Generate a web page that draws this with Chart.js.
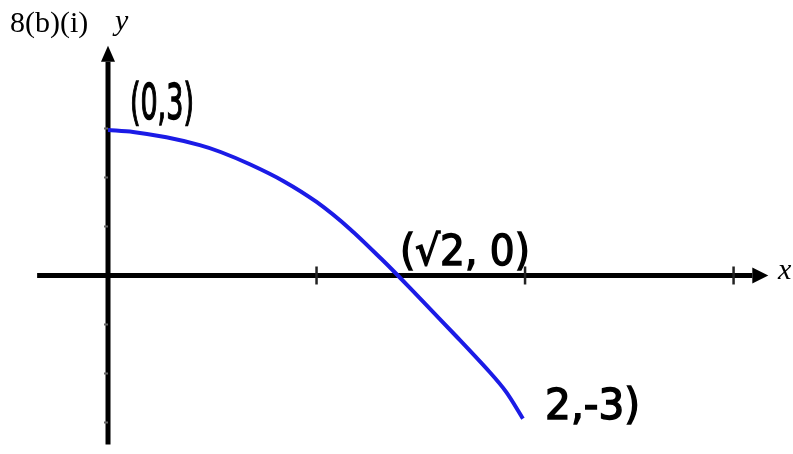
<!DOCTYPE html>
<html>
<head>
<meta charset="utf-8">
<script src="https://cdn.jsdelivr.net/npm/chart.js@4.4.1/dist/chart.umd.min.js"></script>
<style>
  html, body { margin: 0; padding: 0; background: #fff; }
  #wrap { width: 793px; height: 454px; }
</style>
</head>
<body>
<div id="wrap"><canvas id="graph" width="793" height="454"></canvas></div>
<script>
// curve (x, y)
const curveX = [0, 0.12, 0.28, 0.44, 0.54, 0.68, 0.84, 1.0, 1.16, 1.32, 1.39, 1.51, 1.67, 1.83, 1.91, 1.99];
const curveY = [2.97, 2.93, 2.82, 2.66, 2.52, 2.27, 1.93, 1.5, 0.95, 0.3, 0, -0.53, -1.24, -1.97, -2.38, -2.92];

const xTicks = [1, 2, 3];
const yTicks = [3, 2, 1, -1, -2, -3];

// handwritten point labels
const pointLabels = ['(0,3)', '(√2, 0)', '2,-3)'];
const labelAt = [[0.105, 3.2], [1.4, 0.22], [2.096, -2.93]];
const labelWidth = [64, 130, 95];
const labelSize = [50, 42, 42];

const points = curveX.map((x, i) => ({ x: x, y: curveY[i] }));

const axesPlugin = {
    id: 'axes',
    beforeDatasetsDraw(chart) {
        const ctx = chart.ctx;
        const xs = chart.scales.x, ys = chart.scales.y;
        const ox = xs.getPixelForValue(0), oy = ys.getPixelForValue(0);
        const xEnd = xs.getPixelForValue(3.09);
        const yTop = ys.getPixelForValue(4.36);
        ctx.save();
        ctx.strokeStyle = '#000';
        ctx.fillStyle = '#000';
        ctx.lineWidth = 5;
        // x axis
        ctx.beginPath();
        ctx.moveTo(xs.getPixelForValue(-0.34), oy);
        ctx.lineTo(xEnd, oy);
        ctx.stroke();
        ctx.beginPath();
        ctx.moveTo(xEnd, oy - 8);
        ctx.lineTo(xEnd + 16, oy);
        ctx.lineTo(xEnd, oy + 8);
        ctx.closePath();
        ctx.fill();
        // y axis
        ctx.beginPath();
        ctx.moveTo(ox, ys.getPixelForValue(-3.45));
        ctx.lineTo(ox, yTop);
        ctx.stroke();
        ctx.beginPath();
        ctx.moveTo(ox - 7, yTop);
        ctx.lineTo(ox, yTop - 16);
        ctx.lineTo(ox + 7, yTop);
        ctx.closePath();
        ctx.fill();
        // ticks
        ctx.strokeStyle = '#222';
        ctx.lineWidth = 2.5;
        xTicks.forEach(t => {
            const px = xs.getPixelForValue(t);
            ctx.beginPath();
            ctx.moveTo(px, oy - 9);
            ctx.lineTo(px, oy + 9);
            ctx.stroke();
        });
        ctx.strokeStyle = '#666';
        ctx.lineWidth = 2;
        yTicks.forEach(t => {
            const py = ys.getPixelForValue(t);
            ctx.beginPath();
            ctx.moveTo(ox - 4, py);
            ctx.lineTo(ox, py);
            ctx.stroke();
        });
        ctx.restore();
    },
    afterDraw(chart) {
        const ctx = chart.ctx;
        const xs = chart.scales.x, ys = chart.scales.y;
        ctx.save();
        ctx.fillStyle = '#000';
        ctx.textBaseline = 'alphabetic';
        ctx.font = '30px "Liberation Serif"';
        ctx.fillText('8(b)(i)', 10, 32);
        ctx.font = 'italic 30px "Liberation Serif"';
        ctx.fillText('y', 115, 30);
        ctx.fillText('x', 778, 279);
        // handwritten-ish labels
        ctx.lineWidth = 1.5;
        ctx.strokeStyle = '#000';
        pointLabels.forEach((s, i) => {
            const px = xs.getPixelForValue(labelAt[i][0]);
            const py = ys.getPixelForValue(labelAt[i][1]);
            ctx.font = labelSize[i] + 'px "DejaVu Sans"';
            ctx.fillText(s, px, py, labelWidth[i]);
            ctx.strokeText(s, px, py, labelWidth[i]);
        });
        ctx.restore();
    }
};

new Chart(document.getElementById('graph'), {
    type: 'scatter',
    data: {
        datasets: [{
            data: points,
            showLine: true,
            borderColor: '#1b1be6',
            borderWidth: 4,
            pointRadius: 0,
            tension: 0.3,
            fill: false
        }]
    },
    options: {
        responsive: false,
        animation: false,
        devicePixelRatio: 1,
        layout: { padding: 0 },
        plugins: { legend: { display: false }, tooltip: { enabled: false } },
        scales: {
            x: { type: 'linear', display: false, min: -0.518, max: 3.285 },
            y: { type: 'linear', display: false, min: -3.643, max: 5.622 }
        }
    },
    plugins: [axesPlugin]
});
</script>
</body>
</html>
